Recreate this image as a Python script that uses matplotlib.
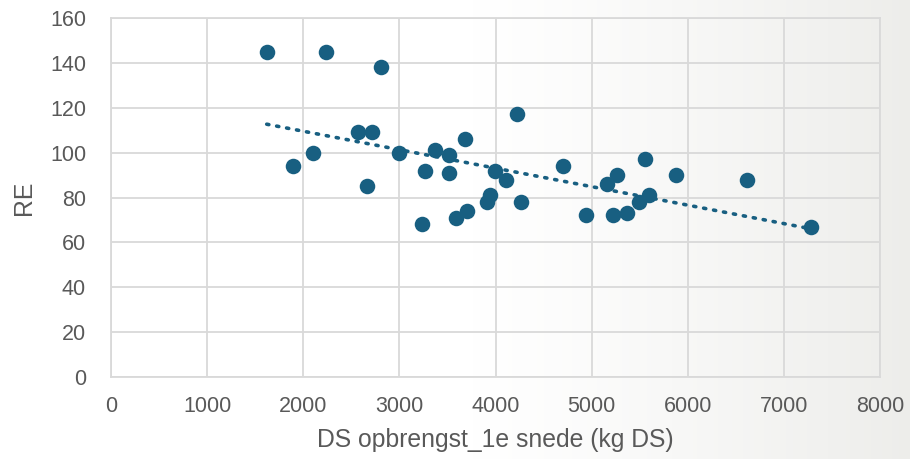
import numpy as np
import matplotlib
matplotlib.use("Agg")
from matplotlib import pyplot as plt

# opbrengst 1e snede (kg DS) vs RE
ds_opbrengst = [1620, 2240, 2810, 1890, 2100, 2570, 2715, 2660, 3000, 3370,
                3515, 3270, 3515, 3680, 3235, 3590, 3700, 3910, 3945, 3995,
                4110, 4220, 4270, 4705, 4940, 5165, 5265, 5225, 5365, 5495,
                5600, 5560, 5880, 6620, 7280]
re_waarde = [145, 145, 138, 94, 100, 109, 109, 85, 100, 101,
             99, 92, 91, 106, 68, 71, 74, 78, 81, 92,
             88, 117, 78, 94, 72, 86, 90, 72, 73, 78,
             81, 97, 90, 88, 67]

x_ticks = [0, 1000, 2000, 3000, 4000, 5000, 6000, 7000, 8000]
y_ticks = [0, 20, 40, 60, 80, 100, 120, 140, 160]

plt.rcParams['font.family'] = ['Liberation Sans', 'DejaVu Sans']

kleur = '#185f81'
tekst = '#595959'
raster = '#d9d9d9'

fig = plt.figure(figsize=(9.1, 4.59), dpi=100)

# achtergrond: wit links, naar lichtgrijs rechts
bg = fig.add_axes([0, 0, 1, 1], zorder=-10)
verloop = np.linspace(0, 1, 256)
verloop = np.clip((verloop - 0.52) / 0.48, 0, 1) ** 1.2
beeld = np.ones((2, 256, 3))
for i, c in enumerate((0.93, 0.93, 0.92)):
    beeld[:, :, i] = 1 - (1 - c) * verloop
bg.imshow(beeld, aspect='auto', extent=[0, 1, 0, 1])
bg.axis('off')

ax = fig.add_axes([111 / 910, 82 / 459, 769 / 910, 359 / 459])
ax.patch.set_alpha(0)
ax.set_xlim(0, 8000)
ax.set_ylim(0, 160)
ax.set_xticks(x_ticks)
ax.set_yticks(y_ticks)
ax.grid(True, color=raster, linewidth=1.3)
ax.set_axisbelow(True)
for s in ax.spines.values():
    s.set_color(raster)
    s.set_linewidth(1.3)
ax.tick_params(length=0, labelsize=15.5, colors=tekst)
ax.tick_params(axis='x', pad=14)
ax.tick_params(axis='y', pad=18)

ax.scatter(ds_opbrengst, re_waarde, s=125, color=kleur, zorder=3, linewidths=0)

# lineaire trendlijn
a, b = np.polyfit(ds_opbrengst, re_waarde, 1)
xl = np.array([min(ds_opbrengst), max(ds_opbrengst)])
ax.plot(xl, a * xl + b, linestyle=(0, (0.6, 2.2)), dash_capstyle='round',
        color=kleur, linewidth=2.6, zorder=2)

ax.set_xlabel('DS opbrengst_1e snede (kg DS)', fontsize=17.8, color=tekst)
ax.set_ylabel('RE', fontsize=17.8, color=tekst)
ax.xaxis.set_label_coords(0.5, (377 - 440) / 359)
ax.xaxis.label.set_va('center')
ax.yaxis.set_label_coords((24 - 111) / 769, 0.5)
ax.yaxis.label.set_va('center')

fig.savefig('out.png', dpi=100)
